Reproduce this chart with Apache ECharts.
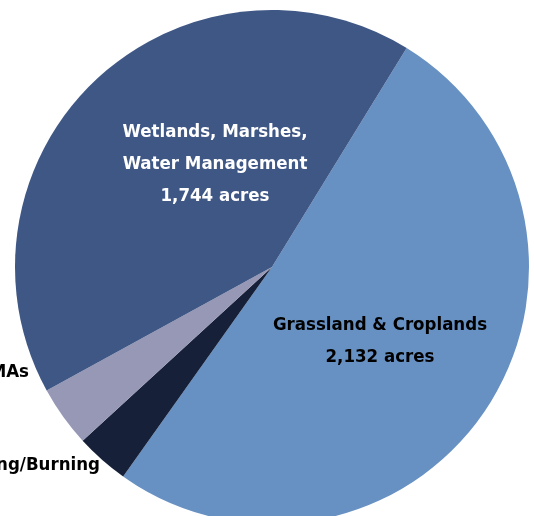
<!DOCTYPE html>
<html>
<head>
<meta charset="utf-8">
<script src="https://cdn.jsdelivr.net/npm/echarts@6/dist/echarts.min.js"></script>
<style>
  html, body { margin: 0; padding: 0; background: #fff; }
  #chart { width: 534px; height: 516px; }
</style>
</head>
<body>
<div id="chart"></div>
<script>
// ── Data (clockwise from the Grassland/Wetland boundary) ──────────────────
const categories = [
  'Grassland & Croplands',
  'Prescribed Mowing/Burning',
  'Other WMAs',
  'Wetlands, Marshes,\nWater Management'
];
const acres = [2132, 140, 160, 1744];
const showAcres = [true, false, false, true];

// ── Styling ──────────────────────────────────────────────────────────────
const sliceColors = ['#6891C3', '#162038', '#9698B6', '#3F5785'];
const labelColors = ['#000000', '#000000', '#000000', '#FFFFFF'];
// label anchor (x, y, align) per slice — the small slices are labelled
// off to the left, the way the source had them
const labelSpots = [
  { x: 380, y: 341, align: 'center' },
  { x: 100, y: 465, align: 'right' },
  { x: 29, y: 372, align: 'right' },
  { x: 215, y: 164, align: 'center' }
];

const fmt = (n) => n.toLocaleString('en-US');

const chart = echarts.init(document.getElementById('chart'), null, { renderer: 'canvas' });

chart.setOption({
  animation: false,
  series: [{
    type: 'pie',
    center: [272, 267],
    radius: 257,
    startAngle: 58.4,
    clockwise: true,
    avoidLabelOverlap: false,
    silent: true,
    itemStyle: { borderWidth: 0 },
    label: {
      show: true,
      position: 'inside',
      fontFamily: '"DejaVu Sans Condensed", sans-serif',
      fontWeight: 'bold',
      fontSize: 18.5,
      lineHeight: 32,
      formatter: (p) => showAcres[p.dataIndex]
        ? p.name + '\n' + fmt(p.value) + ' acres'
        : p.name
    },
    labelLine: { show: false },
    labelLayout: (p) => ({
      x: labelSpots[p.dataIndex].x,
      y: labelSpots[p.dataIndex].y,
      align: labelSpots[p.dataIndex].align,
      verticalAlign: 'middle'
    }),
    data: categories.map((name, i) => ({
      name,
      value: acres[i],
      itemStyle: { color: sliceColors[i] },
      label: { color: labelColors[i], align: labelSpots[i].align }
    }))
  }]
});
</script>
</body>
</html>
